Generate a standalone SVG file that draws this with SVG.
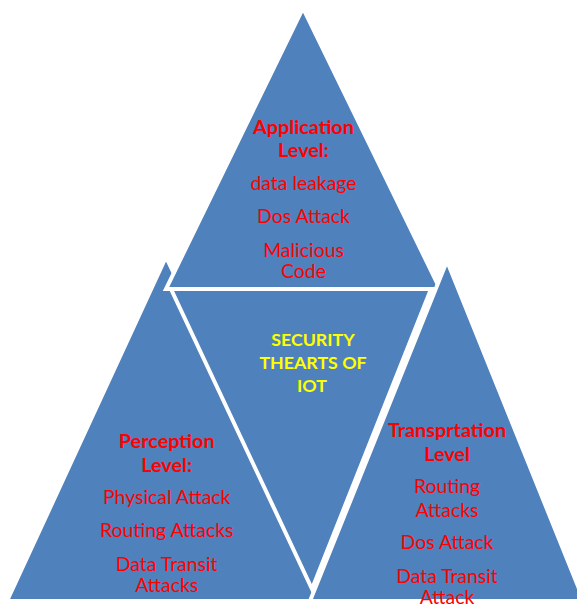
<svg xmlns="http://www.w3.org/2000/svg" width="577" height="607" viewBox="0 0 577 607">
  <style>
    .tri { fill: #4F81BD; stroke: #FFFFFF; stroke-width: 4; stroke-linejoin: miter; }
    text { font-family: Lato, "Liberation Sans", sans-serif; text-anchor: middle; }
    .head { fill: #FF0000; font-weight: bold; font-size: 19.8px; }
    .item { fill: #FF0000; font-size: 19.4px; }
    .core { fill: #FFFF00; font-weight: bold; font-size: 17.8px; }
  </style>
  <rect width="577" height="607" fill="#FFFFFF"/>

  <!-- Perception level (bottom left) -->
  <g id="perception">
    <polygon class="tri" points="166,257 7,601 330,601"/>
  </g>

  <!-- Application level (top) -->
  <g id="application">
    <polygon class="tri" points="303,8 166,289 440,289"/>
    <text class="head" x="303.5" y="134">Application</text>
    <text class="head" x="303.5" y="157">Level:</text>
    <text class="item" x="303.5" y="190">data leakage</text>
    <text class="item" x="303.5" y="223">Dos Attack</text>
    <text class="item" x="303.5" y="257">Malicious</text>
    <text class="item" x="303.5" y="278">Code</text>
  </g>

  <!-- Transportation level (bottom right) -->
  <g id="transportation">
    <polygon class="tri" points="447,261 310,601 584,601"/>
  </g>

  <!-- Security threats core (inverted centre) -->
  <g id="security-core">
    <polygon class="tri" points="171,289 431,289 312,589"/>
    <text class="core" x="313" y="346">SECURITY</text>
    <text class="core" x="313" y="369">THEARTS OF</text>
    <text class="core" x="312" y="392">IOT</text>
  </g>

  <!-- Perception labels drawn above the overlapping shapes -->
  <g id="perception-labels">
    <text class="head" x="166.7" y="448">Perception</text>
    <text class="head" x="166.7" y="471.5">Level:</text>
    <text class="item" x="166.7" y="503.5">Physical Attack</text>
    <text class="item" x="166.7" y="537.3">Routing Attacks</text>
    <text class="item" x="166.7" y="570.7">Data Transit</text>
    <text class="item" x="166.7" y="591.7">Attacks</text>
  </g>

  <g id="transportation-labels">
    <text class="head" x="447" y="437.3">Transprtation</text>
    <text class="head" x="447" y="460.7">Level</text>
    <text class="item" x="447" y="493.3">Routing</text>
    <text class="item" x="447" y="516.7">Attacks</text>
    <text class="item" x="447" y="549.3">Dos Attack</text>
    <text class="item" x="447" y="582.7">Data Transit</text>
    <text class="item" x="447" y="604">Attack</text>
  </g>

  <!-- no connectors in this figure -->
  <g id="connectors"/>
</svg>
